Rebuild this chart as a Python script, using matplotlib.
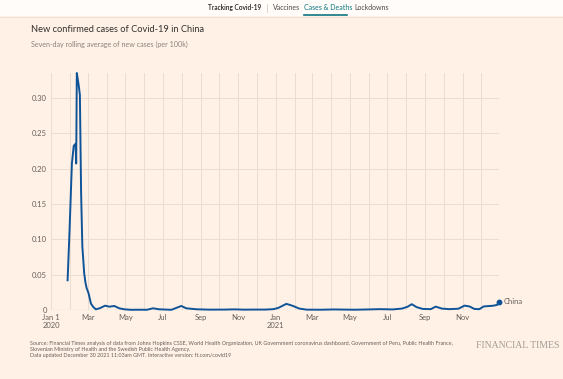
import numpy as np
import pandas as pd
import matplotlib
matplotlib.use('Agg')
import matplotlib.pyplot as plt
import matplotlib.dates as mdates
from matplotlib.patches import Rectangle
from matplotlib.lines import Line2D

# ── Data ─────────────────────────────────────────────────────
dates = [
    '2020-01-28', '2020-01-31', '2020-02-04', '2020-02-07', '2020-02-10',
    '2020-02-11', '2020-02-12', '2020-02-15', '2020-02-17', '2020-02-19',
    '2020-02-21', '2020-02-24', '2020-02-26', '2020-02-28', '2020-03-02',
    '2020-03-06', '2020-03-10', '2020-03-14', '2020-03-20', '2020-03-29',
    '2020-04-05', '2020-04-13', '2020-04-21', '2020-04-29', '2020-05-10',
    '2020-05-25', '2020-06-05', '2020-06-15', '2020-06-25', '2020-07-15',
    '2020-07-31', '2020-08-08', '2020-08-25', '2020-09-15', '2020-10-10',
    '2020-10-25', '2020-11-10', '2020-11-25', '2020-12-15', '2020-12-28',
    '2021-01-05', '2021-01-18', '2021-01-28', '2021-02-08', '2021-02-20',
    '2021-03-15', '2021-04-05', '2021-04-20', '2021-05-10', '2021-06-01',
    '2021-06-20', '2021-07-10', '2021-07-25', '2021-08-03', '2021-08-10',
    '2021-08-18', '2021-08-28', '2021-09-10', '2021-09-18', '2021-09-28',
    '2021-10-10', '2021-10-25', '2021-11-04', '2021-11-12', '2021-11-20',
    '2021-11-28', '2021-12-05', '2021-12-12', '2021-12-20', '2021-12-27',
    '2021-12-30',
]
values = [
    0.042, 0.108, 0.207, 0.232, 0.235,
    0.207, 0.335, 0.318, 0.304, 0.165,
    0.090, 0.052, 0.039, 0.031, 0.024,
    0.009, 0.004, 0.001, 0.0024, 0.0061,
    0.0047, 0.0057, 0.0024, 0.001, 0.0003,
    0.0004, 0.0003, 0.0024, 0.001, 0.0003,
    0.0057, 0.0024, 0.001, 0.0005, 0.0006,
    0.0009, 0.0005, 0.0006, 0.0006, 0.0012,
    0.003, 0.0087, 0.006, 0.002, 0.0005,
    0.0004, 0.0008, 0.0006, 0.0004, 0.0008,
    0.0012, 0.0008, 0.002, 0.0045, 0.0082,
    0.004, 0.0015, 0.0012, 0.0048, 0.002,
    0.0012, 0.0018, 0.0062, 0.005, 0.0015,
    0.0012, 0.005, 0.0055, 0.006, 0.0072,
    0.012,
]
yticks = [0, 0.05, 0.10, 0.15, 0.20, 0.25, 0.30]
ytick_labels = ['0', '0.05', '0.10', '0.15', '0.20', '0.25', '0.30']
xtick_dates = ['2020-01-01', '2020-03-01', '2020-05-01', '2020-07-01',
               '2020-09-01', '2020-11-01', '2021-01-01', '2021-03-01',
               '2021-05-01', '2021-07-01', '2021-09-01', '2021-11-01']
xtick_labels = ['Jan 1\n2020', 'Mar', 'May', 'Jul', 'Sep', 'Nov',
                'Jan\n2021', 'Mar', 'May', 'Jul', 'Sep', 'Nov']

# ── Style ─────────────────────────────────────────────────────
BG = '#FFF1E5'
GRID = '#EADDD1'
LINE = '#0F5499'
TXT = '#66605C'
FONT = 'Lato'

W, H = 563, 379
fig = plt.figure(figsize=(W / 100, H / 100), dpi=100, facecolor=BG)

# top navigation bar
fig.patches.append(Rectangle((0, 1 - 16 / H), 1, 16 / H, transform=fig.transFigure,
                             facecolor='#FFFCF9', edgecolor='none', zorder=0))
fig.add_artist(Line2D([0, 1], [1 - 16.5 / H] * 2, transform=fig.transFigure,
                      color='#E6DCD3', lw=0.6))
fig.text(208 / W, 1 - 7.5 / H, 'Tracking Covid-19', fontsize=4.7, fontweight='bold',
         color='#33302E', va='center', family=FONT)
fig.add_artist(Line2D([267 / W] * 2, [1 - 3.5 / H, 1 - 11.5 / H],
                      transform=fig.transFigure, color='#D5CCC4', lw=0.6))
fig.text(273 / W, 1 - 7.5 / H, 'Vaccines', fontsize=5, color='#4D4845',
         va='center', family=FONT)
fig.text(304 / W, 1 - 7.5 / H, 'Cases & Deaths', fontsize=5, color='#0D7680',
         va='center', family=FONT)
fig.add_artist(Line2D([304 / W, 347 / W], [1 - 15 / H] * 2,
                      transform=fig.transFigure, color='#0D7680', lw=1.2))
fig.text(354 / W, 1 - 7.5 / H, 'Lockdowns', fontsize=5, color='#4D4845',
         va='center', family=FONT)

# titles
fig.text(31 / W, 1 - 29 / H, 'New confirmed cases of Covid-19 in China',
         fontsize=6.7, color='#33302E', va='center', family=FONT)
fig.text(31 / W, 1 - 44 / H, 'Seven-day rolling average of new cases (per 100k)',
         fontsize=5.1, color='#8A837E', va='center', family=FONT)

# ── Axes ──────────────────────────────────────────────────────
x0, x1, y_top, y_bot = 51, 499, 73, 310
ax = fig.add_axes([x0 / W, 1 - y_bot / H, (x1 - x0) / W, (y_bot - y_top) / H])
ax.set_facecolor(BG)

d = pd.to_datetime(dates)
ax.plot(d, values, color=LINE, lw=1.4, clip_on=False, zorder=3,
        solid_joinstyle='round')
ax.plot(d[-1], values[-1], 'o', color=LINE, ms=3.2, clip_on=False, zorder=4)
ax.text(d[-1] + pd.Timedelta(days=7), values[-1], 'China', fontsize=5.5,
        color=TXT, va='center', family=FONT)

ax.set_xlim(pd.Timestamp('2020-01-01'), pd.Timestamp('2021-12-30'))
ax.set_ylim(0, 0.335)

# monthly vertical grid
for m in pd.date_range('2020-01-01', '2021-12-01', freq='MS'):
    ax.axvline(m, color=GRID, lw=0.7, zorder=0)
for yv in yticks[1:]:
    ax.axhline(yv, color=GRID, lw=0.7, zorder=0)
ax.axhline(0, color='#B8ADA4', lw=0.8, zorder=1)

ax.set_yticks(yticks)
ax.set_yticklabels(ytick_labels)
ax.set_xticks(pd.to_datetime(xtick_dates))
ax.set_xticklabels(xtick_labels, linespacing=1.15)
ax.tick_params(length=0, labelsize=5.5, labelcolor=TXT, pad=3)
for lbl in ax.get_xticklabels() + ax.get_yticklabels():
    lbl.set_family(FONT)
for s in ax.spines.values():
    s.set_visible(False)

# ── Footer ────────────────────────────────────────────────────
footer = ('Source: Financial Times analysis of data from Johns Hopkins CSSE, World Health '
          'Organization, UK Government coronavirus dashboard, Government of Peru, Public '
          'Health France,\nSlovenian Ministry of Health and the Swedish Public Health Agency.\n'
          'Data updated December 30 2021 11:03am GMT. Interactive version: ft.com/covid19')
fig.text(30 / W, 1 - 341 / H, footer, fontsize=3.9, color='#66605C', va='top',
         linespacing=1.2, family=FONT)
fig.text(560 / W, 1 - 346 / H, 'FINANCIAL TIMES', fontsize=7, color='#A39C96',
         ha='right', va='center', family='Liberation Serif')

fig.savefig('out.png', dpi=100, facecolor=BG)
